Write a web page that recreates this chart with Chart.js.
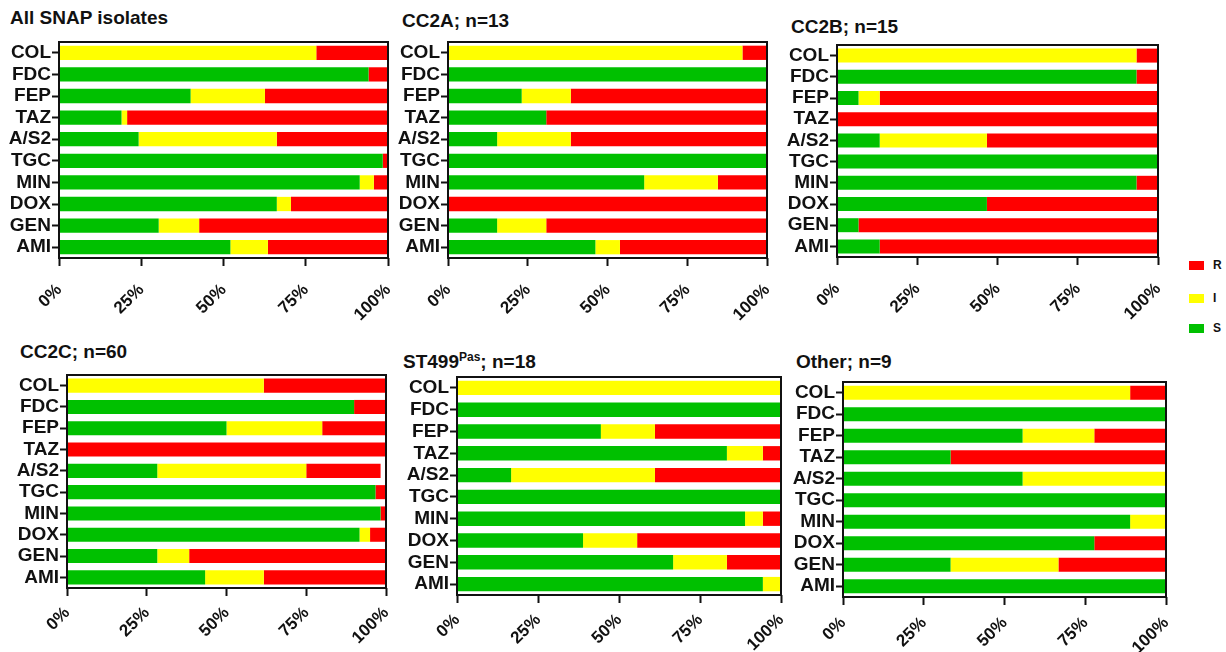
<!DOCTYPE html>
<html>
<head>
<meta charset="utf-8">
<script src="https://cdn.jsdelivr.net/npm/chart.js@4/dist/chart.umd.min.js"></script>
<style>
  body { margin: 0; background: #fff; width: 1226px; height: 652px; position: relative; overflow: hidden;
         font-family: "Liberation Sans", Arial, sans-serif; }
  canvas { position: absolute; }
  .ttl { position: absolute; font-weight: bold; font-size: 19px; color: #111; white-space: nowrap; line-height: 1; }
  .ttl sup { font-size: 12px; vertical-align: 7px; line-height: 0; }
  .leg { position: absolute; left: 1189px; font-weight: bold; font-size: 12px; color: #111; }
  .leg span { display: inline-block; width: 15px; height: 9px; margin-right: 9px; vertical-align: -1px; }
</style>
</head>
<body>

<div class="ttl" style="left:10px;top:8px">All SNAP isolates</div>
<div class="ttl" style="left:402px;top:11px">CC2A; n=13</div>
<div class="ttl" style="left:791px;top:17px">CC2B; n=15</div>
<div class="ttl" style="left:20px;top:342px">CC2C; n=60</div>
<div class="ttl" style="left:403px;top:352px">ST499<sup>Pas</sup>; n=18</div>
<div class="ttl" style="left:796px;top:352px">Other; n=9</div>

<div class="leg" style="top:258px"><span style="background:#ff0000"></span>R</div>
<div class="leg" style="top:291px"><span style="background:#ffff00"></span>I</div>
<div class="leg" style="top:321px"><span style="background:#00c000"></span>S</div>

<canvas id="c1"></canvas>
<canvas id="c2"></canvas>
<canvas id="c3"></canvas>
<canvas id="c4"></canvas>
<canvas id="c5"></canvas>
<canvas id="c6"></canvas>

<script>
const drugs = ['COL', 'FDC', 'FEP', 'TAZ', 'A/S2', 'TGC', 'MIN', 'DOX', 'GEN', 'AMI'];
const xTicks = [0, 25, 50, 75, 100];

// percentages S / I / R per drug
const allS = [0, 94.1, 40.0, 19.0, 24.2, 98.4, 91.4, 66.2, 30.3, 52.1];
const allI = [78.2, 0, 22.6, 1.7, 42.0, 0, 4.3, 4.3, 12.3, 11.4];
const allR = [21.8, 5.9, 37.4, 79.3, 33.8, 1.6, 4.3, 29.5, 57.4, 36.5];

const cc2aS = [0, 100, 23.1, 30.8, 15.4, 100, 61.5, 0, 15.4, 46.2];
const cc2aI = [92.3, 0, 15.4, 0, 23.1, 0, 23.1, 0, 15.4, 7.7];
const cc2aR = [7.7, 0, 61.5, 69.2, 61.5, 0, 15.4, 100, 69.2, 46.1];

const cc2bS = [0, 93.3, 6.7, 0, 13.3, 100, 93.3, 46.7, 6.7, 13.3];
const cc2bI = [93.3, 0, 6.6, 0, 33.4, 0, 0, 0, 0, 0];
const cc2bR = [6.7, 6.7, 86.7, 100, 53.3, 0, 6.7, 53.3, 93.3, 86.7];

const cc2cS = [0, 90.0, 50.0, 0, 28.3, 96.7, 98.3, 91.7, 28.3, 43.3];
const cc2cI = [61.7, 0, 30.0, 0, 46.7, 0, 0, 3.3, 10.0, 18.4];
const cc2cR = [38.3, 10.0, 20.0, 100, 23.3, 3.3, 1.7, 5.0, 61.7, 38.3];

const st499S = [0, 100, 44.4, 83.3, 16.7, 100, 88.9, 38.9, 66.7, 94.4];
const st499I = [100, 0, 16.7, 11.1, 44.4, 0, 5.5, 16.7, 16.6, 5.6];
const st499R = [0, 0, 38.9, 5.6, 38.9, 0, 5.6, 44.4, 16.7, 0];

const otherS = [0, 100, 55.6, 33.3, 55.6, 100, 88.9, 77.8, 33.3, 100];
const otherI = [88.9, 0, 22.2, 0, 44.4, 0, 11.1, 0, 33.4, 0];
const otherR = [11.1, 0, 22.2, 66.7, 0, 0, 0, 22.2, 33.3, 0];

const GREEN = '#00c000', YELLOW = '#ffff00', RED = '#ff0000';
const FONT = "'Liberation Sans', Arial, sans-serif";

// frame round the plot area
const frame = {
  id: 'frame',
  afterDatasetsDraw(chart) {
    const a = chart.chartArea, ctx = chart.ctx;
    ctx.save();
    ctx.strokeStyle = '#111';
    ctx.lineWidth = 2;
    ctx.strokeRect(a.left, a.top, a.right - a.left, a.bottom - a.top);
    ctx.restore();
  }
};

function makePanel(id, plot, S, I, R) {
  const yW = 62, xH = 63, padT = 4, padR = 8;
  const left = plot.l - yW, top = plot.t - padT;
  const width = plot.r - left + padR, height = plot.b - top + xH;
  const cv = document.getElementById(id);
  cv.style.left = left + 'px';
  cv.style.top = top + 'px';
  cv.style.width = width + 'px';
  cv.style.height = height + 'px';
  cv.width = width; cv.height = height;

  new Chart(cv, {
    type: 'bar',
    data: {
      labels: drugs,
      datasets: [
        { label: 'S', data: S, backgroundColor: GREEN },
        { label: 'I', data: I, backgroundColor: YELLOW },
        { label: 'R', data: R, backgroundColor: RED }
      ]
    },
    options: {
      indexAxis: 'y',
      responsive: false,
      animation: false,
      devicePixelRatio: 1,
      layout: { padding: { top: padT, right: padR, left: 0, bottom: 0 } },
      datasets: { bar: { barPercentage: 0.66, categoryPercentage: 1, borderWidth: 0 } },
      plugins: { legend: { display: false }, tooltip: { enabled: false } },
      scales: {
        x: {
          stacked: true, min: 0, max: 100,
          afterBuildTicks: s => { s.ticks = xTicks.map(v => ({ value: v })); },
          afterFit: s => { s.height = xH; s.paddingLeft = 0; s.paddingRight = 0; },
          border: { display: false },
          grid: { drawOnChartArea: false, drawTicks: true, tickLength: 8, tickWidth: 2, tickColor: '#111' },
          ticks: {
            minRotation: 45, maxRotation: 45, padding: plot.pad, autoSkip: false,
            color: '#111', font: { family: FONT, size: 17, weight: 'bold' },
            callback: v => v + '%'
          }
        },
        y: {
          stacked: true,
          afterFit: s => { s.width = yW; s.paddingTop = 0; s.paddingBottom = 0; },
          border: { display: false },
          grid: { drawOnChartArea: false, drawTicks: true, tickLength: 7, tickWidth: 2, tickColor: '#111', offset: false },
          ticks: { padding: 1, autoSkip: false, color: '#111', font: { family: FONT, size: 19, weight: 'bold' } }
        }
      }
    },
    plugins: [frame]
  });
}

makePanel('c1', { l: 59, r: 388, t: 42, b: 258, pad: 14 }, allS, allI, allR);
makePanel('c2', { l: 448, r: 767, t: 42, b: 258, pad: 14 }, cc2aS, cc2aI, cc2aR);
makePanel('c3', { l: 837, r: 1158, t: 45, b: 257, pad: 14 }, cc2bS, cc2bI, cc2bR);
makePanel('c4', { l: 67, r: 386, t: 375, b: 588, pad: 7 }, cc2cS, cc2cI, cc2cR);
makePanel('c5', { l: 457, r: 781, t: 377, b: 595, pad: 7 }, st499S, st499I, st499R);
makePanel('c6', { l: 843, r: 1166, t: 382, b: 597, pad: 8 }, otherS, otherI, otherR);
</script>
</body>
</html>
